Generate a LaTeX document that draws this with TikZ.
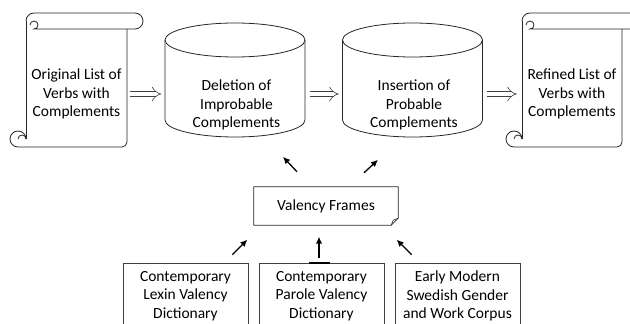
\documentclass[tikz,border=0pt]{standalone}
\usepackage{fontspec}
\setmainfont{Carlito}
\usetikzlibrary{arrows.meta}

\tikzset{
	outline/.style={draw=black!85,line width=0.8pt},
	txt/.style={align=center,inner sep=0pt,font=\fontsize{15.5pt}{18.5pt}\selectfont},
	srcbox/.style={txt,draw=black!75,line width=0.7pt,minimum width=125,minimum height=66},
	hollow/.style={draw=black!75,line width=0.6pt,double=white,double distance=4.6pt,-{Implies[length=7pt,width=11pt]},shorten <=3pt,shorten >=5pt},
	link/.style={draw=black,line width=1.3pt,-{Latex[length=7pt,width=6.5pt]}}
}

% body left, body right, top of roll, bottom
\newcommand{\scrollshape}[4]{%
	\draw[outline] (#1,#3-8) arc[start angle=180,end angle=90,radius=8] -- (#2+8,#3) arc[start angle=90,end angle=-90,radius=8] -- (#1+8,#3-16) arc[start angle=-90,end angle=180,radius=4];
	\draw[outline] (#1,#3-8) -- (#1,#4+8);
	\draw[outline] (#2,#3-16) -- (#2,#4+5) arc[start angle=0,end angle=-90,radius=5] -- (#1-8,#4) arc[start angle=-90,end angle=-360,radius=8];
	\draw[outline] (#1-8,#4+8) arc[start angle=180,end angle=0,radius=4];
}

% centre x, centre y of top and bottom ellipse
\newcommand{\dbshape}[3]{%
	\draw[outline] (#1-70,#2) -- (#1-70,#3) arc[start angle=180,end angle=360,x radius=70,y radius=17] -- (#1+70,#2);
	\draw[outline] (#1,#2) ellipse[x radius=70,y radius=17];
}

\begin{document}
\begin{tikzpicture}[x=1pt,y=1pt]
	\clip (0,0) rectangle (630,324);

	\scrollshape{26}{127}{311}{177}
	\scrollshape{522}{622}{311}{177}
	\dbshape{235}{284}{204}
	\dbshape{412.5}{284}{204}

	\node[txt,minimum width=101] (orig) at (76.5,230) {Original List of\\Verbs with\\Complements};
	\node[txt,minimum width=140] (del) at (236.5,219) {Deletion of\\Improbable\\Complements};
	\node[txt,minimum width=140] (ins) at (414,219) {Insertion of\\Probable\\Complements};
	\node[txt,minimum width=100] (refd) at (572,230) {Refined List of\\Verbs with\\Complements};

	\draw[hollow] (orig.east) -- (orig.east -| del.west);
	\draw[hollow] (del.east |- orig.east) -- (ins.west |- orig.east);
	\draw[hollow] (ins.east |- orig.east) -- (refd.west);

	\node[txt,minimum width=144,minimum height=38] (vf) at (326,118) {Valency Frames};
	\draw[outline,line width=0.7pt] (vf.north west) -- (vf.north east) -- ([yshift=7]vf.south east) -- ([xshift=-7]vf.south east) -- (vf.south west) -- cycle;
	\draw[outline,line width=0.6pt] ([xshift=-7]vf.south east) -- ([xshift=-5,yshift=5]vf.south east) -- ([yshift=7]vf.south east);

	\node[srcbox] (lexin) at (185.5,28) {Contemporary\\Lexin Valency\\Dictionary};
	\node[srcbox] (parole) at (321.5,28) {Contemporary\\Parole Valency\\Dictionary};
	\node[srcbox] (corpus) at (457.5,28) {Early Modern\\Swedish Gender\\and Work Corpus};
	\draw[line width=2.2pt] ([xshift=-12.5]parole.north) -- ([xshift=8.5]parole.north);

	\draw[link] ([shift={(-16,8)}]lexin.north east) -- ([shift={(-1,23)}]lexin.north east);
	\draw[link] ([shift={(-2.5,5)}]parole.north) -- ([shift={(-2.5,26)}]parole.north);
	\draw[link] ([shift={(17,8)}]corpus.north west) -- ([shift={(2,23)}]corpus.north west);

	\draw[link] ([shift={(-29,15)}]vf.north) -- ([shift={(-43,30)}]vf.north);
	\draw[link] ([shift={(38,14)}]vf.north) -- ([shift={(52,27)}]vf.north);
\end{tikzpicture}
\end{document}
